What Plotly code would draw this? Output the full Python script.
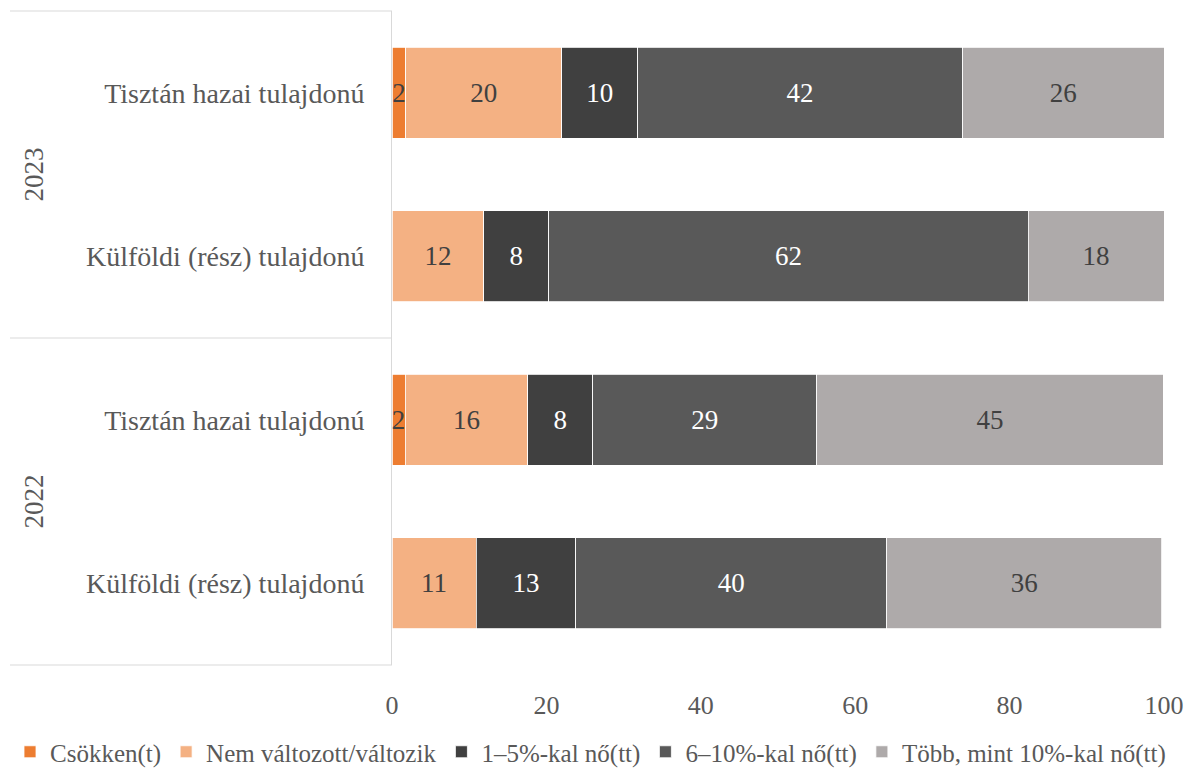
import plotly.graph_objects as go

years = ["2023", "2023", "2022", "2022"]
owners = ["Tisztán hazai tulajdonú", "Külföldi (rész) tulajdonú",
          "Tisztán hazai tulajdonú", "Külföldi (rész) tulajdonú"]

series_names = ["Csökken(t)", "Nem változott/változik", "1–5%-kal nő(tt)",
                "6–10%-kal nő(tt)", "Több, mint 10%-kal nő(tt)"]
csokken = [1.8, 0, 1.7, 0]
nem_valtozott = [20.2, 11.9, 15.9, 10.9]
novekedes_1_5 = [9.8, 8.4, 8.4, 12.9]
novekedes_6_10 = [42.1, 62.1, 29.0, 40.3]
tobb_mint_10 = [26.1, 17.6, 44.9, 35.6]

colors = ["#ED7D31", "#F4B183", "#404040", "#595959", "#AEAAAA"]
text_colors = ["#404040", "#404040", "#FFFFFF", "#FFFFFF", "#404040"]
x_ticks = [0, 20, 40, 60, 80, 100]

FONT = "Liberation Serif"
FS = 28
GRAY = "#595959"
LINE = "#D9D9D9"

all_series = [csokken, nem_valtozott, novekedes_1_5, novekedes_6_10, tobb_mint_10]
ypos = list(range(len(owners)))

fig = go.Figure()
for name, vals, col, tcol in zip(series_names, all_series, colors, text_colors):
    fig.add_trace(go.Bar(
        x=vals, y=ypos, orientation="h", name=name,
        marker=dict(color=col, line=dict(color="white", width=0.8)),
        text=[f"{v:.0f}" if v > 0 else "" for v in vals],
        textposition="inside", insidetextanchor="middle",
        constraintext="none",
        textfont=dict(family=FONT, size=27, color=tcol),
        hoverinfo="skip",
    ))

fig.update_layout(
    barmode="stack", bargap=0.445,
    width=1192, height=769,
    margin=dict(l=392, r=28, t=11, b=104, autoexpand=False),
    plot_bgcolor="white", paper_bgcolor="white",
    font=dict(family=FONT, size=FS, color=GRAY),
    legend=dict(orientation="h", xref="paper", x=(10 - 392) / 772, xanchor="left",
                yref="paper", y=(665 - 752) / 654, yanchor="middle",
                font=dict(family=FONT, size=25, color=GRAY),
                itemwidth=30, traceorder="normal"),
    xaxis=dict(range=[0, 100], tickvals=x_ticks, showgrid=False, zeroline=False,
               showline=False, ticks="", ticklabelstandoff=22, automargin=False,
               tickfont=dict(family=FONT, size=26, color=GRAY)),
    yaxis=dict(range=[3.5, -0.5], tickvals=ypos, ticktext=owners,
               showgrid=False, zeroline=False, showline=True, linecolor=LINE,
               linewidth=1, ticks="", ticklabelstandoff=21, automargin=False,
               tickfont=dict(family=FONT, size=FS, color=GRAY)),
)

# category group separators (left box)
x_left = (10 - 392) / 772
for yp in [1, 0.5, 0]:
    fig.add_shape(type="line", xref="paper", yref="paper", x0=x_left, x1=0,
                  y0=yp, y1=yp, line=dict(color=LINE, width=1))

# year labels
for yr, yc in [(years[0], 0.5), (years[2], 2.5)]:
    fig.add_annotation(text=yr, xref="paper", yref="y", x=(33 - 392) / 772, y=yc,
                       xanchor="center", yanchor="middle",
                       textangle=-90, showarrow=False,
                       font=dict(family=FONT, size=27, color=GRAY))

fig.write_html("out.html", config={"displayModeBar": False},
               post_script="document.body.style.margin='0';document.body.style.overflow='hidden';")
